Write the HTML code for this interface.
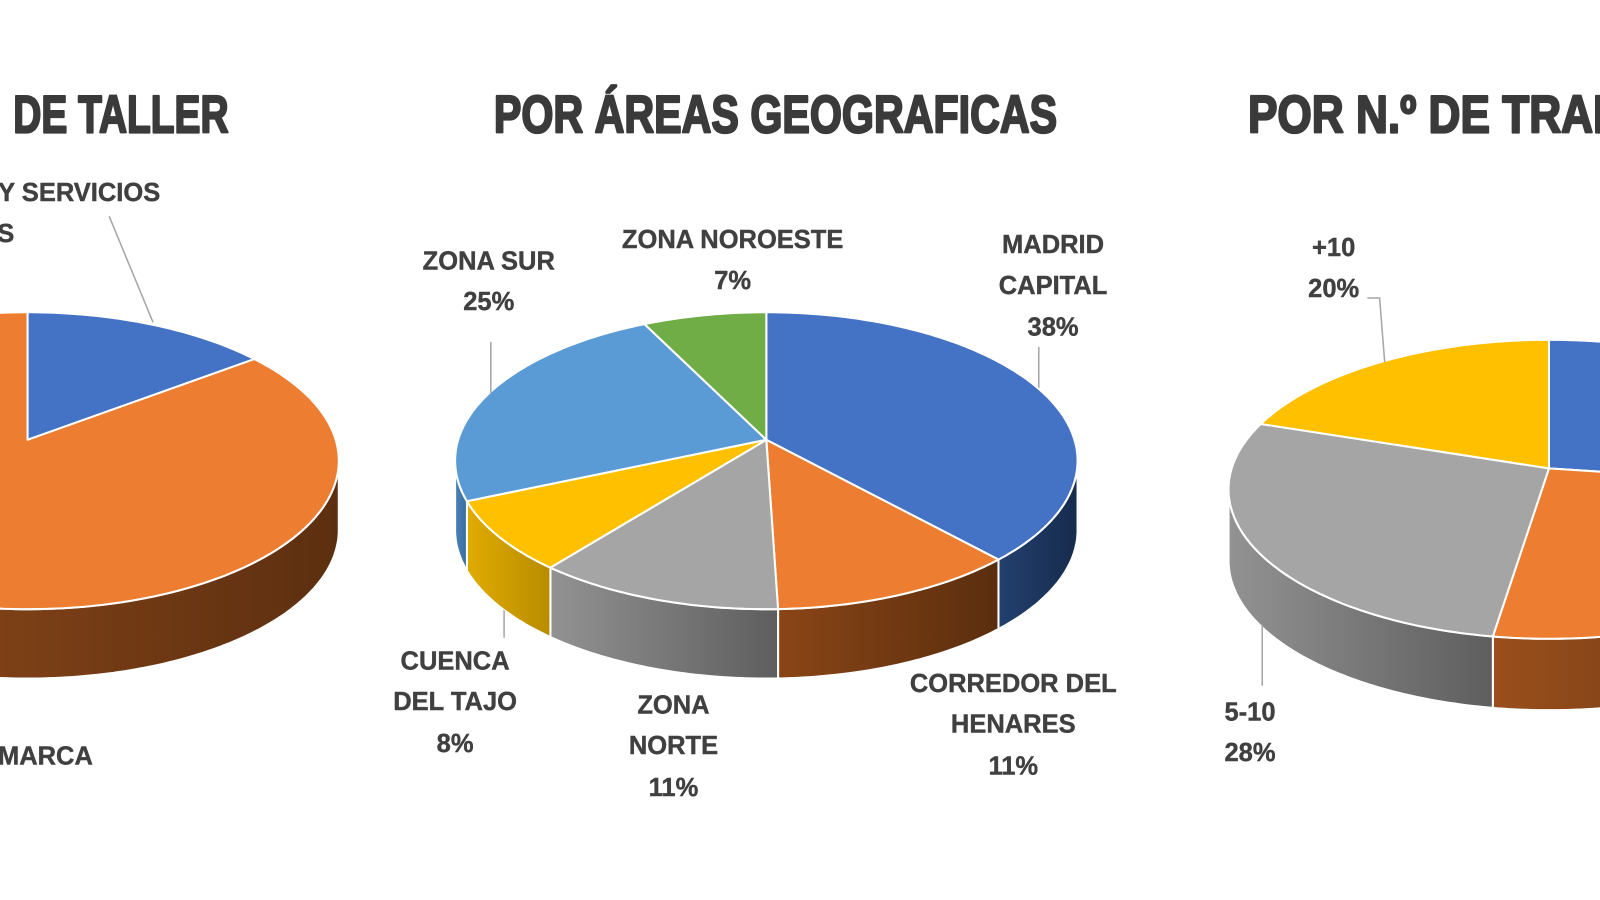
<!DOCTYPE html>
<html><head><meta charset="utf-8"><style>
html,body{margin:0;padding:0;background:#fff;width:1600px;height:900px;overflow:hidden}
svg{display:block}
.t{font-family:"Liberation Sans",sans-serif;font-weight:bold;fill:#404040;font-size:25px;text-anchor:middle;stroke:#404040;stroke-width:0.4}
.h{font-family:"Liberation Sans Narrow","Liberation Sans",sans-serif;font-weight:bold;fill:#3a3a3a;font-size:52px;stroke:#3a3a3a;stroke-width:2.2;stroke-linejoin:round}
</style></head><body>
<svg id="s" width="1600" height="900" viewBox="0 0 1568 882" preserveAspectRatio="none" xmlns="http://www.w3.org/2000/svg">
<defs>
<linearGradient id="gOr" x1="0" x2="1" y1="0" y2="0"><stop offset="0" stop-color="#9a4f1c"/><stop offset="1" stop-color="#5c2f10"/></linearGradient>
<linearGradient id="gOr2" x1="0" x2="1" y1="0" y2="0"><stop offset="0" stop-color="#8a4516"/><stop offset="1" stop-color="#5a2e0e"/></linearGradient>
<linearGradient id="gGr" x1="0" x2="1" y1="0" y2="0"><stop offset="0" stop-color="#929292"/><stop offset="1" stop-color="#5e5e5e"/></linearGradient>
<linearGradient id="gYe" x1="0" x2="1" y1="0" y2="0"><stop offset="0" stop-color="#e0ab00"/><stop offset="1" stop-color="#b88c00"/></linearGradient>
<linearGradient id="gBl" x1="0" x2="1" y1="0" y2="0"><stop offset="0" stop-color="#22406e"/><stop offset="1" stop-color="#172b4d"/></linearGradient>
<linearGradient id="gLb" x1="0" x2="1" y1="0" y2="0"><stop offset="0" stop-color="#4a82b8"/><stop offset="1" stop-color="#3b6d9c"/></linearGradient>
</defs>
<g id="pies"></g>
<text class="h" x="13" y="130" textLength="211" lengthAdjust="spacingAndGlyphs">DE TALLER</text>
<text class="h" x="484" y="130" textLength="552" lengthAdjust="spacingAndGlyphs">POR ÁREAS GEOGRAFICAS</text>
<text class="h" x="1223" y="130" textLength="610" lengthAdjust="spacingAndGlyphs">POR N.º DE TRABAJADORES</text>

<g stroke="#a6a6a6" stroke-width="1.5" fill="none">
<polyline points="107,212 150,316"/>
<line x1="481" y1="335" x2="481" y2="385"/>
<line x1="1018" y1="340" x2="1018" y2="380"/>
<line x1="494" y1="598" x2="494" y2="625"/>
<polyline points="1340,292 1352,292 1357,355"/>
<line x1="1237" y1="612" x2="1237" y2="672"/>
</g>
<g class="t">
<text x="157" y="197" style="text-anchor:end">TALLER Y SERVICIOS</text>
<text x="14" y="237" style="text-anchor:end">OFICIALES</text>
<text x="91" y="749" style="text-anchor:end">MARCA</text>
<text x="718" y="243">ZONA NOROESTE</text><text x="718" y="283">7%</text>
<text x="479" y="264">ZONA SUR</text><text x="479" y="304">25%</text>
<text x="1032" y="248">MADRID</text><text x="1032" y="288">CAPITAL</text><text x="1032" y="329">38%</text>
<text x="446" y="656">CUENCA</text><text x="446" y="696">DEL TAJO</text><text x="446" y="737">8%</text>
<text x="660" y="699">ZONA</text><text x="660" y="739">NORTE</text><text x="660" y="780">11%</text>
<text x="993" y="678">CORREDOR DEL</text><text x="993" y="718">HENARES</text><text x="993" y="759">11%</text>
<text x="1307" y="251">+10</text><text x="1307" y="291">20%</text>
<text x="1225" y="706">5-10</text><text x="1225" y="746">28%</text>
</g>
</svg>
<script>
(function(){
var NS="http://www.w3.org/2000/svg",g=document.getElementById("pies");
function pie(cx,ax,ay,ey,rx,ry,d,sl){
  function P(t,dy){var r=t*Math.PI/180;return [cx+rx*Math.sin(r),ey-ry*Math.cos(r)+(dy||0)];}
  function arc(a,b,dy){var s=[],n=Math.max(2,Math.ceil(Math.abs(b-a)));for(var i=0;i<=n;i++){var p=P(a+(b-a)*i/n,dy);s.push(p[0].toFixed(1)+","+p[1].toFixed(1));}return s;}
  function add(dd,f){var e=document.createElementNS(NS,"path");e.setAttribute("d",dd);e.setAttribute("fill",f);e.setAttribute("stroke","#fff");e.setAttribute("stroke-width","2");e.setAttribute("stroke-linejoin","round");g.appendChild(e);}
  var a=0;
  sl.forEach(function(s){var b=a+s[0]*3.6;s.a=a;s.b=b;a=b;});
  sl.forEach(function(s){var lo=Math.max(s.a,90),hi=Math.min(s.b,270);if(hi>lo){
    var top=arc(lo,hi,0),bot=arc(hi,lo,d);add("M"+top.join(" L")+" L"+bot.join(" L")+"Z",s[2]);}});
  sl.forEach(function(s){add("M"+ax+","+ay+" L"+arc(s.a,s.b,0).join(" L")+"Z",s[1]);});
}
pie(751,751,431,451.5,305,145.5,68,[[36.6,"#4472c4","url(#gBl)"],[12.8,"#ed7d31","url(#gOr2)"],[12.8,"#a5a5a5","url(#gGr)"],[8.4,"#ffc000","url(#gYe)"],[23,"#5b9bd5","url(#gLb)"],[6.4,"#70ad47","#507e32"]]);
pie(27,27,431,451.5,305,145.5,68,[[13,"#4472c4","url(#gBl)"],[87,"#ed7d31","url(#gOr)"]]);
pie(1518,1518,459,479.5,314,146.5,70,[[25,"#4472c4","url(#gBl)"],[27.8,"#ed7d31","url(#gOr)"],[29.4,"#a5a5a5","url(#gGr)"],[17.8,"#ffc000","url(#gYe)"]]);
})();
</script>
</body></html>
